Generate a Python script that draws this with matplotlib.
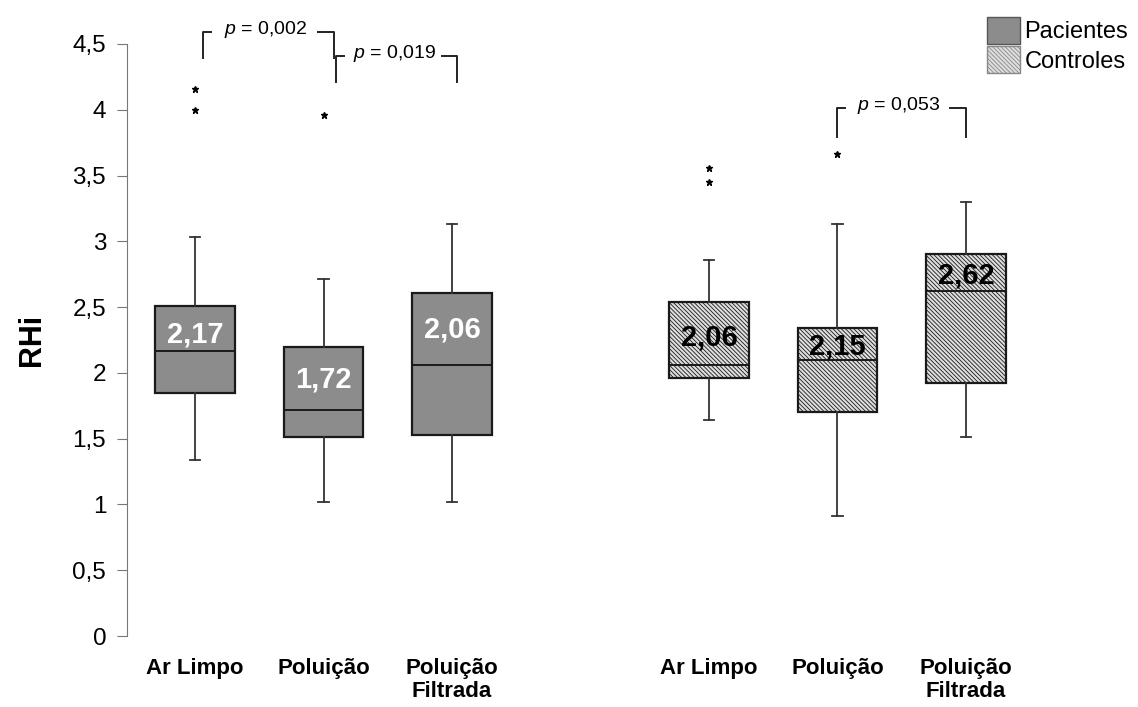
import matplotlib.pyplot as plt
import matplotlib.patches as mpatches

plt.rcParams['font.family'] = ['Liberation Sans', 'DejaVu Sans']
plt.rcParams['mathtext.fontset'] = 'custom'
plt.rcParams['mathtext.it'] = 'Liberation Sans:italic'
plt.rcParams['mathtext.rm'] = 'Liberation Sans'
plt.rcParams['hatch.linewidth'] = 0.6

# ---------------- data ----------------
groups = ['Ar Limpo', 'Poluição', 'Poluição\nFiltrada']
positions = [1, 2, 3, 5, 6, 7]

# Pacientes then Controles
whislo = [1.34, 1.02, 1.02, 1.64, 0.91, 1.51]
q1 = [1.85, 1.51, 1.53, 1.96, 1.70, 1.92]
med = [2.17, 1.72, 2.06, 2.06, 2.10, 2.62]
q3 = [2.51, 2.20, 2.61, 2.54, 2.34, 2.90]
whishi = [3.03, 2.71, 3.13, 2.86, 3.13, 3.30]
fliers = [[4.16, 4.0], [3.96], [], [3.56, 3.45], [3.66], []]
med_labels = ['2,17', '1,72', '2,06', '2,06', '2,15', '2,62']
label_y = [2.29, 1.95, 2.33, 2.27, 2.20, 2.74]

# p-value brackets: (x left, x right, y top, y bottom, text)
brackets = [(1.06, 2.08, 4.59, 4.39, '0,002'),
            (2.10, 3.04, 4.41, 4.21, '0,019'),
            (6.00, 7.00, 4.01, 3.79, '0,053')]

fig = plt.figure(figsize=(11.38, 7.07), dpi=100)
ax = fig.add_axes([0.1116, 0.1004, 0.8884, 0.8374])

stats = []
for i in range(6):
    stats.append(dict(whislo=whislo[i], q1=q1[i], med=med[i], q3=q3[i],
                      whishi=whishi[i], fliers=fliers[i]))

bp = ax.bxp(stats, positions=positions, widths=0.62, patch_artist=True,
            showfliers=True,
            boxprops=dict(linewidth=1.6, edgecolor='#1a1a1a'),
            medianprops=dict(color='#1a1a1a', linewidth=1.4),
            whiskerprops=dict(color='#333333', linewidth=1.3),
            capprops=dict(color='#333333', linewidth=1.3),
            capwidths=0.08,
            flierprops=dict(marker='*', markersize=5, markerfacecolor='black',
                            markeredgecolor='black', linestyle='none'))

for i, box in enumerate(bp['boxes']):
    if i < 3:
        box.set_facecolor('#8c8c8c')
    else:
        box.set_facecolor('#dedede')
        box.set_hatch('\\\\\\\\\\\\\\\\')

for i in range(6):
    col = 'white' if i < 3 else 'black'
    ax.text(positions[i], label_y[i], med_labels[i], ha='center', va='center',
            fontsize=21, fontweight='bold', color=col)

for xl, xr, yt, yb, txt in brackets:
    tick = 0.06
    ax.plot([xl, xl, xl + tick], [yb, yt, yt], color='#222222', lw=1.4,
            clip_on=False)
    ax.plot([xr - tick * 2, xr, xr], [yt, yt, yb], color='#222222', lw=1.4,
            clip_on=False)
    ax.text((xl + xr) / 2 - 0.02, yt + 0.02, r'$\it{p}$ = ' + txt, ha='center',
            va='center', fontsize=14, clip_on=False)

ax.set_xlim(0.47, 8.34)
ax.set_ylim(0, 4.5)
ax.set_yticks([0, 0.5, 1, 1.5, 2, 2.5, 3, 3.5, 4, 4.5])
ax.set_yticklabels(['0', '0,5', '1', '1,5', '2', '2,5', '3', '3,5', '4', '4,5'],
                   fontsize=17.5)
ax.set_xticks(positions)
ax.set_xticklabels(groups + groups, fontsize=16, fontweight='bold',
                   linespacing=1.1)
ax.tick_params(axis='x', length=0, pad=16)
ax.tick_params(axis='y', length=7, color='#777777', pad=8)
for s in ['top', 'right', 'bottom']:
    ax.spines[s].set_visible(False)
ax.spines['left'].set_color('#777777')
ax.set_ylabel('RHi', fontsize=22, fontweight='bold', labelpad=18)

h1 = mpatches.Patch(facecolor='#8c8c8c', edgecolor='#555555', label='Pacientes')
h2 = mpatches.Patch(facecolor='#dedede', edgecolor='#888888',
                    hatch='\\\\\\\\\\\\\\\\', label='Controles')
fig.legend(handles=[h1, h2], loc='upper right', bbox_to_anchor=(1.006, 1.0),
           frameon=False, fontsize=17, handlelength=1.4, handleheight=1.4,
           handletextpad=0.2, labelspacing=0.1, borderpad=0.2)

fig.savefig('out.png', dpi=100)
